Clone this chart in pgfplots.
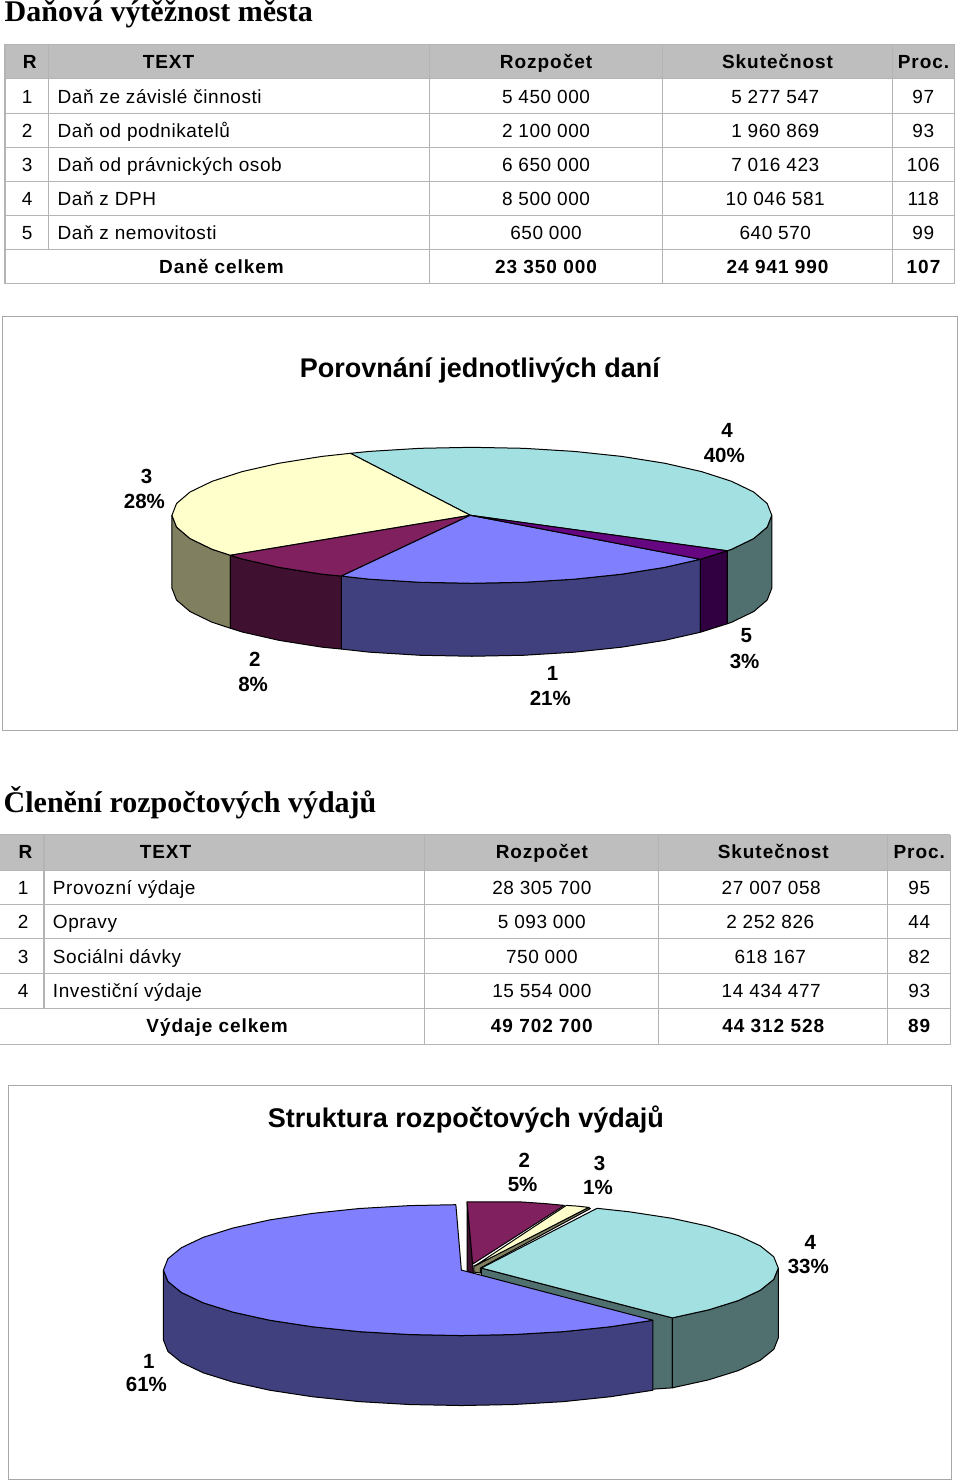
\documentclass[border=0pt]{standalone}
\usepackage{fontspec}
\usepackage{pgfplots}
\pgfplotsset{compat=1.18}
\setmainfont{Liberation Sans}
\newfontfamily\bodyf[LetterSpace=3]{Liberation Sans}
\newfontfamily\boldf[LetterSpace=5]{Liberation Sans Bold}
\newfontfamily\labf{Liberation Sans Bold}
\newfontfamily\titlef{Liberation Serif Bold}

\definecolor{hdr}{HTML}{BEBEBE}
\definecolor{gl}{HTML}{B4B4B4}
\definecolor{frm}{HTML}{A8A8A8}
\definecolor{blueT}{HTML}{8080FF}
\definecolor{blueS}{HTML}{40407F}
\definecolor{maroonT}{HTML}{80205F}
\definecolor{maroonS}{HTML}{401030}
\definecolor{creamT}{HTML}{FFFFCC}
\definecolor{creamS}{HTML}{808060}
\definecolor{cyanT}{HTML}{A3E0E2}
\definecolor{cyanS}{HTML}{507070}
\definecolor{purpT}{HTML}{660680}
\definecolor{purpS}{HTML}{300040}

\pgfplotsset{poly/.style={draw=black,line width=1pt,line join=round,mark=none,forget plot}}

% table helpers: x, baseline y, text
\newcommand{\rowt}[3]{\node[anchor=base,inner sep=0pt] at (axis cs:#1,#2) {\fontsize{19}{22}\selectfont\bodyf #3};}
\newcommand{\rowl}[3]{\node[anchor=base west,inner sep=0pt] at (axis cs:#1,#2) {\fontsize{19}{22}\selectfont\bodyf #3};}
\newcommand{\rowb}[3]{\node[anchor=base,inner sep=0pt] at (axis cs:#1,#2) {\fontsize{19}{22}\selectfont\boldf #3};}
\newcommand{\lab}[3]{\node[anchor=base,inner sep=0pt] at (axis cs:#1,#2) {\fontsize{20.5}{24}\selectfont\labf #3};}
\newcommand{\HL}[3]{\addplot[gl,line width=1pt,mark=none,forget plot] coordinates {(#2,#1) (#3,#1)};}
\newcommand{\VL}[3]{\addplot[gl,line width=1.2pt,mark=none,forget plot] coordinates {(#1,#2) (#1,#3)};}

\begin{document}
\begin{tikzpicture}
\begin{axis}[
    scale only axis, width=960pt, height=1482pt,
    xmin=0, xmax=960, ymin=0, ymax=1482,
    y dir=reverse, hide axis, clip=false,
]
\addplot[fill=white,draw=none,forget plot] coordinates {(0,0) (960,0) (960,1482) (0,1482)} --cycle;

% ---- first table
\addplot[fill=hdr,draw=none,forget plot] coordinates {(4,44.5) (954.5,44.5) (954.5,78.5) (4,78.5)} --cycle;
\HL{44.5}{4}{954.5}\HL{78.5}{4}{954.5}\HL{113}{4}{954.5}\HL{147.5}{4}{954.5}
\HL{181.5}{4}{954.5}\HL{215.5}{4}{954.5}\HL{249.5}{4}{954.5}\HL{283.5}{4}{954.5}
\VL{4.5}{44.5}{283.5}\VL{48}{44.5}{249.5}\VL{429}{44.5}{283.5}\VL{662.5}{44.5}{283.5}
\VL{892}{44.5}{283.5}\VL{954.5}{44.5}{283.5}

\node[anchor=base west,inner sep=0pt] at (axis cs:4,20.7) {\fontsize{30}{34}\selectfont\titlef Daňová výtěžnost města};

\rowb{29.3}{68}{R}\rowb{168}{68}{TEXT}\rowb{545.7}{68}{Rozpočet}\rowb{777.3}{68}{Skutečnost}\rowb{923.3}{68}{Proc.}
\rowt{26.7}{102.7}{1}\rowl{57}{102.7}{Daň ze závislé činnosti}\rowt{545.7}{102.7}{5 450 000}\rowt{775}{102.7}{5 277 547}\rowt{923}{102.7}{97}
\rowt{26.7}{136.7}{2}\rowl{57}{136.7}{Daň od podnikatelů}\rowt{545.7}{136.7}{2 100 000}\rowt{775}{136.7}{1 960 869}\rowt{923}{136.7}{93}
\rowt{26.7}{171}{3}\rowl{57}{171}{Daň od právnických osob}\rowt{545.7}{171}{6 650 000}\rowt{775}{171}{7 016 423}\rowt{923}{171}{106}
\rowt{26.7}{205}{4}\rowl{57}{205}{Daň z DPH}\rowt{545.7}{205}{8 500 000}\rowt{775}{205}{10 046 581}\rowt{923}{205}{118}
\rowt{26.7}{238.7}{5}\rowl{57}{238.7}{Daň z nemovitosti}\rowt{545.7}{238.7}{650 000}\rowt{775}{238.7}{640 570}\rowt{923}{238.7}{99}
\rowb{221}{273}{Daně celkem}\rowb{545.7}{273}{23 350 000}\rowb{777.3}{273}{24 941 990}\rowb{923.3}{273}{107}

% ---- first pie
\addplot[fill=white,draw=frm,line width=1pt,forget plot] coordinates {(2.5,316) (957.5,316) (957.5,730) (2.5,730)} --cycle;
\node[anchor=base,inner sep=0pt] at (axis cs:479.5,377) {\fontsize{27}{30}\selectfont\labf Porovnání jednotlivých daní};

\addplot[poly,fill=blueS] coordinates {(700,559) (664.3,567.1) (621.5,573.9) (574.1,578.9) (523.6,582) (471.5,583) (419.4,582) (368.9,578.9) (341,575.8) (341,648.8) (368.9,651.9) (419.4,655) (471.5,656) (523.6,655) (574.1,651.9) (621.5,646.9) (664.3,640.1) (700,632)} --cycle;
\addplot[poly,fill=purpS] coordinates {(727,550.5) (700,559) (700,632) (727,623.5)} --cycle;
\addplot[poly,fill=cyanS] coordinates {(771.5,515) (766.9,526.8) (753.4,538.3) (731.3,549) (727,550.5) (727,623.5) (731.3,622) (753.4,611.3) (766.9,599.8) (771.5,588)} --cycle;
\addplot[poly,fill=creamS] coordinates {(171.5,515) (176.1,526.8) (189.6,538.3) (211.7,549) (230,555) (230,628) (211.7,622) (189.6,611.3) (176.1,599.8) (171.5,588)} --cycle;
\addplot[poly,fill=maroonS] coordinates {(341,575.8) (321.5,573.9) (278.7,567.1) (241.7,558.7) (230,555) (230,628) (241.7,631.7) (278.7,640.1) (321.5,646.9) (341,648.8)} --cycle;

\addplot[poly,fill=cyanT] coordinates {(470,515) (350,453) (368.9,451.1) (419.4,448) (471.5,447) (523.6,448) (574.1,451.1) (621.5,456.1) (664.3,462.9) (701.3,471.3) (731.3,481) (753.4,491.7) (766.9,503.2) (771.5,515) (766.9,526.8) (753.4,538.3) (731.3,549) (727,550.5)} --cycle;
\addplot[poly,fill=creamT] coordinates {(470,515) (230,555) (211.7,549) (189.6,538.3) (176.1,526.8) (171.5,515) (176.1,503.2) (189.6,491.7) (211.7,481) (241.7,471.3) (278.7,462.9) (321.5,456.1) (350,453)} --cycle;
\addplot[poly,fill=maroonT] coordinates {(470,515) (341,575.8) (321.5,573.9) (278.7,567.1) (241.7,558.7) (230,555)} --cycle;
\addplot[poly,fill=blueT] coordinates {(470,515) (700,559) (664.3,567.1) (621.5,573.9) (574.1,578.9) (523.6,582) (471.5,583) (419.4,582) (368.9,578.9) (341,575.8)} --cycle;
\addplot[poly,fill=purpT] coordinates {(470,515) (727,550.5) (700,559)} --cycle;

\lab{146}{482.7}{3}\lab{144}{508.3}{28\%}
\lab{726.7}{436.7}{4}\lab{724}{461.7}{40\%}
\lab{254.3}{666}{2}\lab{252.7}{691.7}{8\%}
\lab{552.3}{680}{1}\lab{550}{705}{21\%}
\lab{746}{642.7}{5}\lab{744.3}{668}{3\%}

% ---- second table
\node[anchor=base west,inner sep=0pt] at (axis cs:3,812.3) {\fontsize{30}{34}\selectfont\titlef Členění rozpočtových výdajů};
\addplot[fill=hdr,draw=none,forget plot] coordinates {(0,834.7) (950,834.7) (950,870.3) (0,870.3)} --cycle;
\HL{834.7}{0}{950}\HL{870.3}{0}{950}\HL{904.5}{0}{950}\HL{938.7}{0}{950}
\HL{973.3}{0}{950}\HL{1008.3}{0}{950}\HL{1044.7}{0}{950}
\VL{43.5}{834.7}{1008.3}\VL{424.5}{834.7}{1044.7}\VL{658}{834.7}{1044.7}
\VL{887.5}{834.7}{1044.7}\VL{950}{834.7}{1044.7}

\rowb{25}{858.3}{R}\rowb{165}{858.3}{TEXT}\rowb{541.5}{858.3}{Rozpočet}\rowb{773}{858.3}{Skutečnost}\rowb{919}{858.3}{Proc.}
\rowt{22.7}{894}{1}\rowl{52.3}{894}{Provozní výdaje}\rowt{541.5}{894}{28 305 700}\rowt{771}{894}{27 007 058}\rowt{919}{894}{95}
\rowt{22.7}{928.3}{2}\rowl{52.3}{928.3}{Opravy}\rowt{541.5}{928.3}{5 093 000}\rowt{770}{928.3}{2 252 826}\rowt{919}{928.3}{44}
\rowt{22.7}{963.3}{3}\rowl{52.3}{963.3}{Sociálni dávky}\rowt{541.5}{963.3}{750 000}\rowt{770}{963.3}{618 167}\rowt{919}{963.3}{82}
\rowt{22.7}{997.3}{4}\rowl{52.3}{997.3}{Investiční výdaje}\rowt{541.5}{997.3}{15 554 000}\rowt{771}{997.3}{14 434 477}\rowt{919}{997.3}{93}
\rowb{216.7}{1032.3}{Výdaje celkem}\rowb{541.5}{1032.3}{49 702 700}\rowb{773}{1032.3}{44 312 528}\rowb{919}{1032.3}{89}

% ---- second pie
\addplot[fill=white,draw=frm,line width=1pt,forget plot] coordinates {(8,1085.5) (951,1085.5) (951,1479.5) (8,1479.5)} --cycle;
\node[anchor=base,inner sep=0pt] at (axis cs:465.5,1127) {\fontsize{27}{30}\selectfont\labf Struktura rozpočtových výdajů};

\addplot[poly,fill=maroonS] coordinates {(466.7,1202) (472.3,1264) (473,1273) (466.7,1271)} --cycle;
\addplot[poly,fill=maroonT] coordinates {(472.3,1264) (466.7,1201.7) (520,1201.8) (545,1203.5) (564,1205.3)} --cycle;
\addplot[poly,fill=creamS] coordinates {(588.3,1207.3) (590,1208.5) (480,1268) (480,1273) (473.5,1272) (473.5,1266)} --cycle;
\addplot[poly,fill=creamT] coordinates {(474.3,1266) (566,1205.3) (577,1206) (588.3,1207.3)} --cycle;
\addplot[poly,fill=cyanS] coordinates {(481,1268) (672,1317.8) (672,1387.8) (640,1390) (481,1338)} --cycle;
\addplot[poly,fill=cyanS] coordinates {(778,1268) (773.5,1279.3) (760,1290.2) (738.1,1300.5) (708.3,1309.8) (672,1317.8) (672,1387.8) (708.3,1379.8) (738.1,1370.5) (760,1360.2) (773.5,1349.3) (778,1338)} --cycle;
\addplot[poly,fill=cyanT] coordinates {(481,1268) (596.7,1208.2) (629,1211.7) (671.6,1218.2) (708.3,1226.2) (738.1,1235.5) (760,1245.8) (773.5,1256.7) (778,1268) (773.5,1279.3) (760,1290.2) (738.1,1300.5) (708.3,1309.8) (672,1317.8)} --cycle;
\addplot[poly,fill=blueS] coordinates {(652.6,1320.2) (610,1326.7) (562.9,1331.6) (512.7,1334.5) (461,1335.5) (409.3,1334.5) (359.1,1331.6) (312,1326.7) (269.4,1320.2) (232.7,1312.1) (202.9,1302.8) (181,1292.4) (167.5,1281.4) (163,1270) (163,1340) (167.5,1351.4) (181,1362.4) (202.9,1372.8) (232.7,1382.1) (269.4,1390.2) (312,1396.7) (359.1,1401.6) (409.3,1404.5) (461,1405.5) (512.7,1404.5) (562.9,1401.6) (610,1396.7) (652.6,1390.2)} --cycle;
\addplot[poly,fill=blueT] coordinates {(461,1270) (652.6,1320.2) (610,1326.7) (562.9,1331.6) (512.7,1334.5) (461,1335.5) (409.3,1334.5) (359.1,1331.6) (312,1326.7) (269.4,1320.2) (232.7,1312.1) (202.9,1302.8) (181,1292.4) (167.5,1281.4) (163,1270) (167.5,1258.6) (181,1247.6) (202.9,1237.2) (232.7,1227.9) (269.4,1219.8) (312,1213.3) (359.1,1208.4) (409.3,1205.5) (455.5,1204.6)} --cycle;

\lab{524}{1167.7}{2}\lab{522.3}{1191.7}{5\%}
\lab{599.3}{1170}{3}\lab{597.7}{1194.3}{1\%}
\lab{810}{1249}{4}\lab{808}{1273}{33\%}
\lab{148.3}{1368.3}{1}\lab{146}{1391.7}{61\%}
\end{axis}
\end{tikzpicture}
\end{document}
